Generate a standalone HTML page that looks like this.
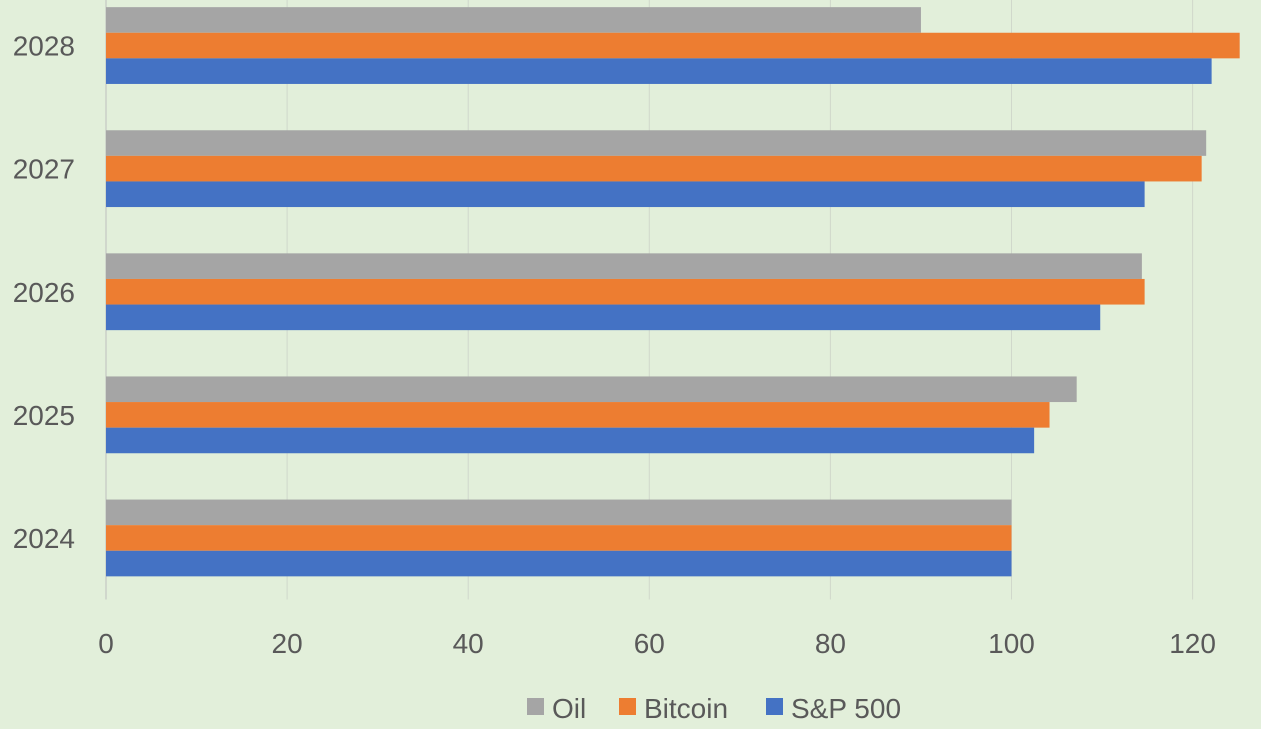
<!DOCTYPE html>
<html><head><meta charset="utf-8"><style>
html,body{margin:0;padding:0;background:#e2efda;}
svg{display:block;font-family:"Liberation Sans",sans-serif;}
</style></head><body>
<svg id="chart" width="1261" height="729">
<rect x="0" y="0" width="1261" height="729" fill="#e2efda"/>
<g id="grid"></g><g id="bars"></g><g id="ylabels"></g><g id="xlabels"></g>
<g id="legend"></g>
</svg>
<script>
const categories = ["2024","2025","2026","2027","2028"];
const seriesNames = ["S&P 500","Bitcoin","Oil"];
const sp500 = [100,102.5,109.8,114.7,122.1];
const bitcoin = [100,104.2,114.7,121.0,125.2];
const oil = [100,107.2,114.4,121.5,90.0];
const xTicks = [0,20,40,60,80,100,120];
const colors = ["#4472c4","#ed7d31","#a5a5a5"];
const NS="http://www.w3.org/2000/svg";
const x0=106, pxPer=9.055, plotTop=-16, pitch=123.1, barH=25.6;
function xs(v){return x0+v*pxPer;}
function bandTop(i){return plotTop+(categories.length-1-i)*pitch;}
function mk(t,a,p){const e=document.createElementNS(NS,t);for(const k in a)e.setAttribute(k,a[k]);p.appendChild(e);return e;}
const grid=document.getElementById('grid'),bars=document.getElementById('bars'),yl=document.getElementById('ylabels'),xl=document.getElementById('xlabels'),lg=document.getElementById('legend');
const bottom=plotTop+categories.length*pitch;
xTicks.forEach(t=>{
  const l=mk('line',{x1:xs(t),x2:xs(t),y1:0,y2:bottom,stroke:t===0?'#bfbfbf':'#d0d8cb','stroke-width':1},grid);
  
  
  const tx=mk('text',{x:xs(t),y:653,'text-anchor':'middle','font-size':28,fill:'#595959'},xl);
  tx.textContent=t;
  
  
});
const data=[sp500,bitcoin,oil];
categories.forEach((c,i)=>{
  const top=bandTop(i);
  const cy=top+pitch/2;
  const off=(pitch-3*barH)/2;
  [2,1,0].forEach((s,k)=>{
    const r=mk('rect',{x:x0,y:top+off+k*barH,width:xs(data[s][i])-x0,height:barH,fill:colors[s]},bars);
    
    
  });
  const t=mk('text',{x:75,y:cy+10,'text-anchor':'end','font-size':28,fill:'#595959'},yl);
  t.textContent=c;
  
  
});
const leg=[{n:"Oil",c:colors[2],x:527},{n:"Bitcoin",c:colors[1],x:619},{n:"S&P 500",c:colors[0],x:766}];
leg.forEach(e=>{
  const r=mk('rect',{x:e.x,y:698,width:17,height:17,fill:e.c},lg);
  
  
  const t=mk('text',{x:e.x+25,y:718,'font-size':28,fill:'#595959'},lg);
  t.textContent=e.n;
  
  
});
</script>
</body></html>
